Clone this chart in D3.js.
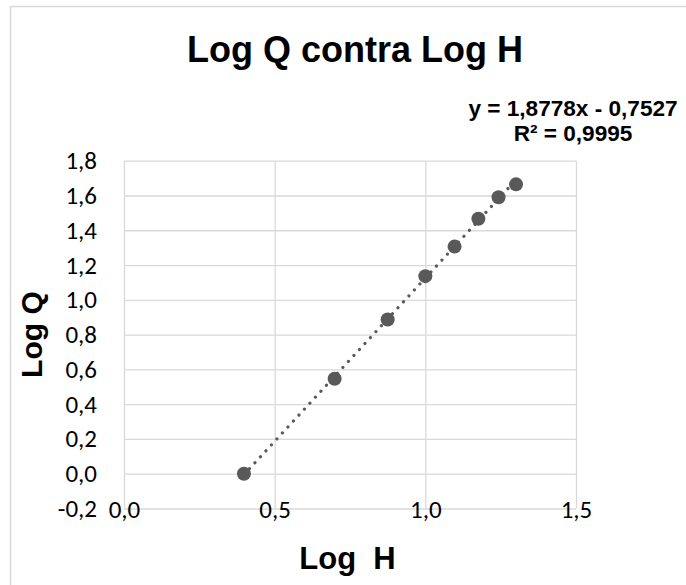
<!DOCTYPE html>
<html>
<head>
<meta charset="utf-8">
<script src="https://cdn.jsdelivr.net/npm/d3@7"></script>
<style>
  html, body { margin: 0; padding: 0; background: #ffffff; }
  svg { display: block; }
</style>
</head>
<body>
<svg id="chart" width="686" height="585"></svg>
<script>
// ---- data ----
const logH = [0.398, 0.699, 0.875, 1.000, 1.097, 1.176, 1.243, 1.301];
const logQ = [0.000, 0.546, 0.887, 1.136, 1.306, 1.466, 1.590, 1.664];
const xTicks = [0.0, 0.5, 1.0, 1.5];
const yTicks = [-0.2, 0.0, 0.2, 0.4, 0.6, 0.8, 1.0, 1.2, 1.4, 1.6, 1.8];
const trendSlope = 1.8778;
const trendIntercept = -0.7527;
const titleText = "Log Q contra Log H";
const xTitle = "Log  H";
const yTitle = "Log Q";
const eqLine1 = "y = 1,8778x - 0,7527";
const eqLine2 = "R² = 0,9995";

// ---- layout ----
const svg = d3.select("#chart");
const W = 686, H = 585;
const plot = { left: 124, right: 576, top: 160.7, bottom: 508.5 };
const gridColor = "#d9d9d9";
const markColor = "#595959";
const boldFont = "'Liberation Sans', Arial, sans-serif";
const tickFont = "Carlito, Calibri, 'Open Sans', sans-serif";

svg.append("rect").attr("x", 0).attr("y", 0).attr("width", W).attr("height", H).attr("fill", "#fff");
// chart area border (extends past the window on right/bottom)
svg.append("rect")
  .attr("x", 10.5).attr("y", 6.5).attr("width", W + 20).attr("height", H + 20)
  .attr("fill", "#fff").attr("stroke", gridColor).attr("stroke-width", 1.5);

const x = d3.scaleLinear().domain([0, 1.5]).range([plot.left, plot.right]);
const y = d3.scaleLinear().domain([-0.2, 1.8]).range([plot.bottom, plot.top]);

const fmt = d => (d < 0 ? "-" : "") + Math.abs(d).toFixed(1).replace(".", ",");

// y axis (horizontal gridlines + labels)
const gy = svg.append("g").attr("transform", `translate(${plot.left},0)`)
  .call(d3.axisLeft(y).tickValues(yTicks).tickFormat(fmt)
    .tickSize(-(plot.right - plot.left)).tickPadding(27));
gy.select(".domain").remove();
gy.selectAll(".tick line").attr("stroke", gridColor).attr("stroke-width", 1.3);
gy.selectAll(".tick text").attr("font-family", tickFont).attr("font-size", 25).attr("fill", "#000");

// x axis (vertical gridlines + labels drawn over the bottom gridline)
const gx = svg.append("g").attr("transform", `translate(0,${plot.bottom})`)
  .call(d3.axisBottom(x).tickValues(xTicks).tickFormat(fmt)
    .tickSize(-(plot.bottom - plot.top)).tickPadding(-8));
gx.select(".domain").remove();
gx.selectAll(".tick line").attr("stroke", gridColor).attr("stroke-width", 1.3);
gx.selectAll(".tick text").attr("font-family", tickFont).attr("font-size", 25).attr("fill", "#000");

// markers
const pts = logH.map((h, i) => ({ h, q: logQ[i] }));
svg.append("g").selectAll("circle").data(pts).join("circle")
  .attr("cx", d => x(d.h)).attr("cy", d => y(d.q)).attr("r", 7)
  .attr("fill", markColor);

// linear trendline (dotted)
const hMin = d3.min(logH), hMax = d3.max(logH);
const trend = [hMin, hMax].map(h => ({ h, q: trendSlope * h + trendIntercept }));
svg.append("path").datum(trend)
  .attr("d", d3.line().x(d => x(d.h)).y(d => y(d.q)))
  .attr("fill", "none").attr("stroke", markColor).attr("stroke-width", 3.2)
  .attr("stroke-linecap", "round").attr("stroke-dasharray", "0.01 8.1");

// title
svg.append("text").attr("x", 355).attr("y", 62).attr("text-anchor", "middle")
  .attr("font-family", boldFont).attr("font-weight", "bold").attr("font-size", 36)
  .attr("fill", "#000").text(titleText);

// equation label
svg.append("text").attr("x", 573).attr("y", 116).attr("text-anchor", "middle")
  .attr("font-family", boldFont).attr("font-weight", "bold").attr("font-size", 22.6)
  .attr("fill", "#000").text(eqLine1);
svg.append("text").attr("x", 573).attr("y", 141).attr("text-anchor", "middle")
  .attr("font-family", boldFont).attr("font-weight", "bold").attr("font-size", 22.6)
  .attr("fill", "#000").text(eqLine2);

// axis titles
svg.append("text").attr("x", (plot.left + plot.right) / 2 - 2.5).attr("y", 569).attr("text-anchor", "middle")
  .attr("font-family", boldFont).attr("font-weight", "bold").attr("font-size", 31)
  .attr("fill", "#000").style("white-space", "pre").attr("xml:space", "preserve").text(xTitle);
svg.append("text").attr("transform", `translate(42,${(plot.top + plot.bottom) / 2}) rotate(-90)`)
  .attr("text-anchor", "middle")
  .attr("font-family", boldFont).attr("font-weight", "bold").attr("font-size", 30)
  .attr("fill", "#000").text(yTitle);
</script>
</body>
</html>
